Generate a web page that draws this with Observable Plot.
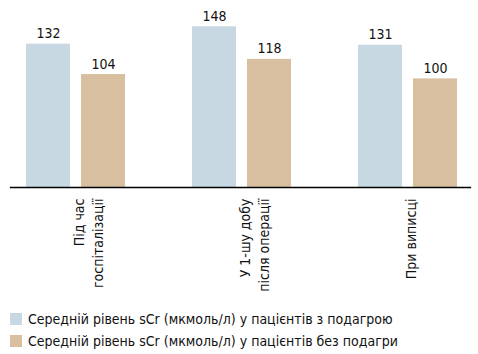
<!DOCTYPE html>
<html>
<head>
<meta charset="utf-8">
<script src="https://cdn.jsdelivr.net/npm/d3@7"></script>
<script src="https://cdn.jsdelivr.net/npm/@observablehq/plot@0.6"></script>
<style>
  body { margin: 0; background: #fff; font-family: "Liberation Sans Narrow", "Arial Narrow", "DejaVu Sans Condensed", sans-serif; }
  #legend { margin-top: 8px; }
  .row { display: flex; align-items: center; height: 22px; font-size: 14px; color: #111; }
  .sw { width: 12px; height: 12px; margin-left: 10px; margin-right: 6px; }
</style>
</head>
<body>
<div id="chart"></div>
<div id="legend"></div>
<script>
const groups = ["Під час госпіталізації", "У 1-шу добу після операції", "При виписці"];
const groupLabels = ["Під час\nгоспіталізації", "У 1-шу добу\nпісля операції", "При виписці"];
const series = ["Середній рівень sCr (мкмоль/л) у пацієнтів з подагрою", "Середній рівень sCr (мкмоль/л) у пацієнтів без подагри"];
const goutValues = [132, 148, 131];
const noGoutValues = [104, 118, 100];
const colors = ["#c8d8e2", "#d8bf9f"];

const data = [];
groups.forEach((g, i) => {
  data.push({group: g, series: series[0], value: goutValues[i]});
  data.push({group: g, series: series[1], value: noGoutValues[i]});
});
const labels = groups.map((g, i) => ({group: g, text: groupLabels[i]}));

const font = '"Liberation Sans Narrow", "Arial Narrow", "DejaVu Sans Condensed", sans-serif';

const chart = Plot.plot({
  width: 478,
  height: 300,
  marginTop: 0,
  marginBottom: 113,
  marginLeft: 24,
  marginRight: 21,
  style: {fontFamily: font, fontSize: "14px", color: "#111", background: "#fff"},
  fx: {domain: groups, paddingInner: 0.4, paddingOuter: 0, axis: null, label: null},
  x: {domain: series, paddingInner: 0.2, paddingOuter: 0, axis: null},
  y: {domain: [0, 172.2], axis: null},
  color: {domain: series, range: colors},
  marks: [
    Plot.barY(data, {fx: "group", x: "series", y: "value", fill: "series"}),
    Plot.text(data, {fx: "group", x: "series", y: "value", text: d => String(d.value), lineAnchor: "bottom", dy: -6, fontSize: 14, fill: "#111"}),
    Plot.text(labels, {fx: "group", y: () => 0, text: "text", rotate: -90, textAnchor: "end", lineAnchor: "top", dy: 11, dx: -4, fontSize: 14, lineHeight: 1.3, fill: "#111"}),
    Plot.frame({anchor: "bottom", facet: "super", stroke: "#000", strokeWidth: 1.3, insetLeft: -15, insetRight: -13})
  ]
});
document.getElementById("chart").appendChild(chart);

const legend = document.getElementById("legend");
series.forEach((s, i) => {
  const row = document.createElement("div");
  row.className = "row";
  const sw = document.createElement("div");
  sw.className = "sw";
  sw.style.background = colors[i];
  const t = document.createElement("span");
  t.textContent = s;
  row.appendChild(sw);
  row.appendChild(t);
  legend.appendChild(row);
});
</script>
</body>
</html>
